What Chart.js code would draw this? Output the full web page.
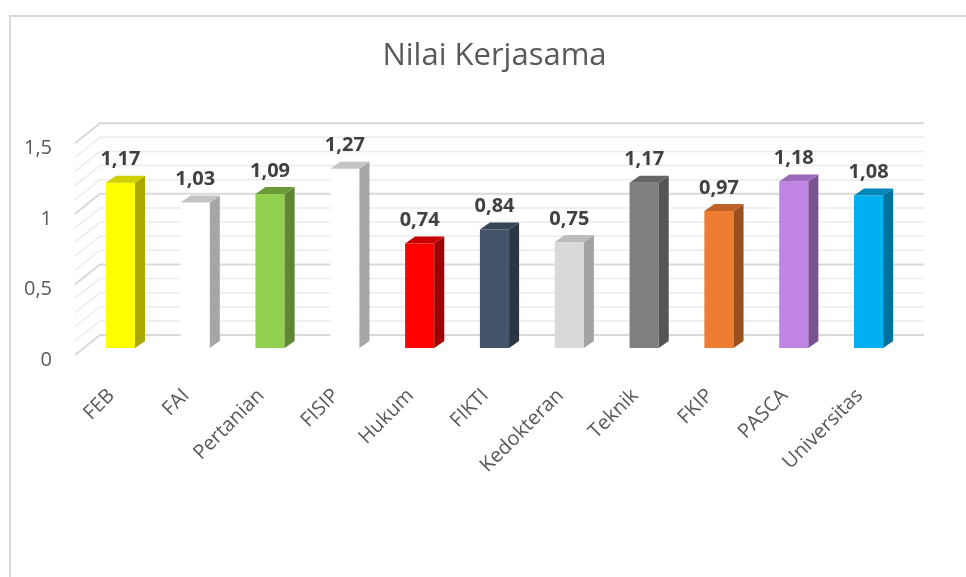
<!DOCTYPE html>
<html>
<head>
<meta charset="utf-8">
<title>Nilai Kerjasama</title>
<script src="https://cdn.jsdelivr.net/npm/chart.js@4.4.0/dist/chart.umd.min.js"></script>
<style>
  body { margin: 0; background: #fff; overflow: hidden; }
  #frame { position: absolute; left: 9px; top: 15px; width: 970px; height: 580px;
           border-left: 2px solid #d9d9d9; border-top: 2px solid #d9d9d9; }
  #wrap { position: absolute; left: 0; top: 0; width: 966px; height: 577px; }
</style>
</head>
<body>
<div id="frame"></div>
<div id="wrap"><canvas id="nilaiChart"></canvas></div>
<script>
// Data
const labels = ['FEB', 'FAI', 'Pertanian', 'FISIP', 'Hukum', 'FIKTI', 'Kedokteran', 'Teknik', 'FKIP', 'PASCA', 'Universitas'];
const nilai = [1.17, 1.03, 1.09, 1.27, 0.74, 0.84, 0.75, 1.17, 0.97, 1.18, 1.08];
const yMin = 0;
const yMax = 1.5;
const yStep = 0.5;

// Colours: front, side and top face of each bar
const frontColors = ['#ffff00', '#ffffff', '#92d050', '#ffffff', '#ff0000', '#44546a', '#d9d9d9', '#7f7f7f', '#ed7d31', '#c084e4', '#00b0f0'];
const sideColors  = ['#a9a900', '#a6a6a6', '#5f8630', '#a6a6a6', '#a00000', '#2b3645', '#a3a3a3', '#555555', '#9a4f1e', '#7a5294', '#00719c'];
const topColors   = ['#d0d000', '#c4c4c4', '#6c9a38', '#c4c4c4', '#c80000', '#364457', '#bdbdbd', '#666666', '#bf6227', '#9c68bc', '#0088bb'];

const depthX = 10, depthY = 7;   // depth of each bar
const wallX = 25, wallY = 20;    // depth of the floor/wall

const fmt = v => String(v).replace('.', ',');

// back wall gridlines with the slanted side wall
const wall3d = {
    id: 'wall3d',
    beforeDatasetsDraw(chart) {
        const { ctx, chartArea, scales: { y } } = chart;
        const xFront = chartArea.left - 8;
        const xBack = xFront + wallX;
        const xEnd = chartArea.right + 18;
        ctx.save();
        for (let i = 0; i <= 15; i++) {
            const v = i / 10;
            const py = y.getPixelForValue(v);
            const major = i % 5 === 0;
            ctx.strokeStyle = major ? '#d9d9d9' : '#ececec';
            ctx.lineWidth = major ? 2 : 1.5;
            ctx.beginPath();
            ctx.moveTo(xFront, py + 7);
            ctx.lineTo(xBack, py + 7 - wallY);
            ctx.lineTo(xEnd, py + 7 - wallY);
            ctx.stroke();
        }
        ctx.restore();
    },
    afterDatasetsDraw(chart) {
        const { ctx } = chart;
        const meta = chart.getDatasetMeta(0);
        ctx.save();
        meta.data.forEach((bar, i) => {
            const { x, y, base, width } = bar.getProps(['x', 'y', 'base', 'width'], true);
            const l = x - width / 2, r = x + width / 2;
            // side face
            ctx.fillStyle = sideColors[i];
            ctx.beginPath();
            ctx.moveTo(r, y);
            ctx.lineTo(r + depthX, y - depthY);
            ctx.lineTo(r + depthX, base - depthY);
            ctx.lineTo(r, base);
            ctx.closePath();
            ctx.fill();
            // top face
            ctx.fillStyle = topColors[i];
            ctx.beginPath();
            ctx.moveTo(l, y);
            ctx.lineTo(l + depthX, y - depthY);
            ctx.lineTo(r + depthX, y - depthY);
            ctx.lineTo(r, y);
            ctx.closePath();
            ctx.fill();
            // value label
            ctx.fillStyle = '#404040';
            ctx.font = '700 20px "Open Sans"';
            ctx.textAlign = 'center';
            ctx.textBaseline = 'middle';
            ctx.fillText(fmt(nilai[i]), x, y - 23);
        });
        ctx.restore();
    }
};

const ctx = document.getElementById('nilaiChart').getContext('2d');
new Chart(ctx, {
    type: 'bar',
    data: {
        labels: labels,
        datasets: [{
            label: 'Nilai Kerjasama',
            data: nilai,
            backgroundColor: frontColors,
            borderWidth: 0,
            categoryPercentage: 1,
            barPercentage: 0.39
        }]
    },
    options: {
        responsive: true,
        maintainAspectRatio: false,
        animation: false,
        layout: { padding: { left: 0, right: 60, top: 0, bottom: 0 } },
        plugins: {
            legend: { display: false },
            tooltip: { enabled: false },
            title: {
                display: true,
                text: 'Nilai Kerjasama',
                color: '#595959',
                fullSize: false,
                font: { family: 'Open Sans', size: 31, weight: 'normal' },
                padding: { top: 38, bottom: 61 }
            }
        },
        scales: {
            x: {
                grid: { display: false },
                border: { display: false },
                ticks: {
                    color: '#595959',
                    font: { family: 'Open Sans', size: 20 },
                    minRotation: 45,
                    maxRotation: 45,
                    padding: 28,
                    labelOffset: -9
                },
                afterFit: s => { s.height = 229; }
            },
            y: {
                min: yMin,
                max: yMax,
                grid: { display: false },
                border: { display: false },
                ticks: {
                    stepSize: yStep,
                    color: '#595959',
                    font: { family: 'Open Sans', size: 20 },
                    padding: 23,
                    labelOffset: 12,
                    callback: v => fmt(v)
                },
                afterFit: s => { s.width = 83; }
            }
        }
    },
    plugins: [wall3d]
});
</script>
</body>
</html>
